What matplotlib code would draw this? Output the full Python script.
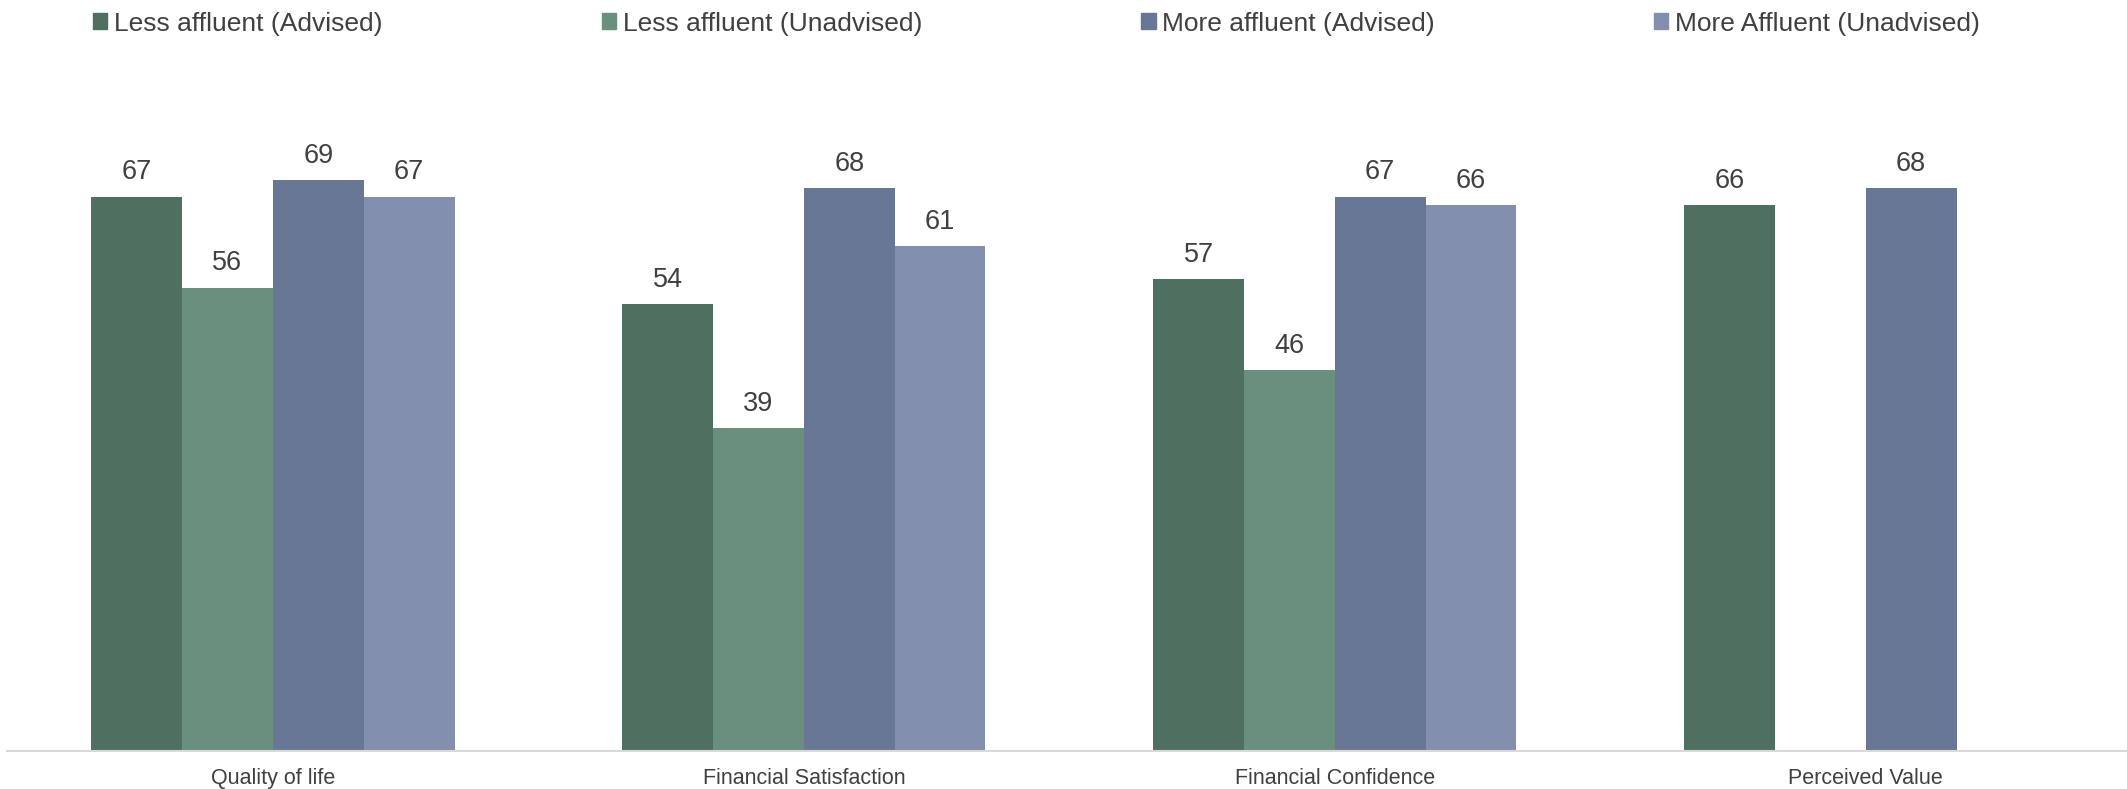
import numpy as np
import matplotlib.pyplot as plt
from matplotlib.patches import Patch

plt.rcParams['font.family'] = ['Liberation Sans', 'DejaVu Sans']

categories = ['Quality of life', 'Financial Satisfaction', 'Financial Confidence', 'Perceived Value']
series = ['Less affluent (Advised)', 'Less affluent (Unadvised)',
          'More affluent (Advised)', 'More Affluent (Unadvised)']
less_advised = [67, 54, 57, 66]
less_unadvised = [56, 39, 46, np.nan]
more_advised = [69, 68, 67, 68]
more_unadvised = [67, 61, 66, np.nan]

colors = ['#4F6F60', '#6A8F7E', '#687894', '#8290AD']
text_col = '#404040'

fig = plt.figure(figsize=(21.27, 7.89), dpi=100)
ax = fig.add_axes([0.0035, 0.0482, 0.9985, 0.839])

x = np.arange(len(categories))
w = 0.171
for j, vals in enumerate([less_advised, less_unadvised, more_advised, more_unadvised]):
    bars = ax.bar(x + (j - 1.5) * w, vals, w, color=colors[j], linewidth=0)
    ax.bar_label(bars, labels=['' if np.isnan(v) else f'{v:.0f}' for v in vals],
                 padding=8, fontsize=19.5, color=text_col)

ax.set_xlim(-0.5, 3.5)
ax.set_ylim(0, 80)
ax.set_xticks(x)
ax.set_xticklabels(categories, fontsize=15.5, color=text_col)
ax.tick_params(axis='x', length=0, pad=12)
ax.set_yticks([])
for s in ['top', 'right', 'left']:
    ax.spines[s].set_visible(False)
ax.spines['bottom'].set_color('#D9D9D9')
ax.spines['bottom'].set_linewidth(1.5)

handles = [Patch(color=c) for c in colors]
fig.legend(handles, series, ncol=4, loc='center left', bbox_to_anchor=(0.0325, 0.970),
           frameon=False, fontsize=19, labelcolor=text_col, handlelength=0.55,
           handleheight=0.55, handletextpad=0.25, columnspacing=8.3)

plt.savefig('out.png', dpi=100)
